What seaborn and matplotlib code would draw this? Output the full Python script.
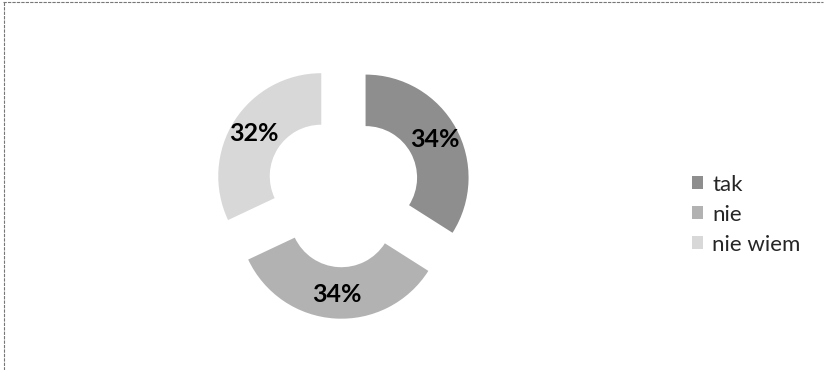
import matplotlib
matplotlib.use("Agg")
import matplotlib.pyplot as plt
from matplotlib.lines import Line2D
from matplotlib.patches import Patch
import seaborn as sns

# Survey answers
categories = ["tak", "nie", "nie wiem"]
values = [34, 34, 32]
colors = ["#8e8e8e", "#b2b2b2", "#d8d8d8"]

sns.set_style("white")
plt.rcParams["font.family"] = ["Lato", "DejaVu Sans"]

fig = plt.figure(figsize=(8.25, 3.7), dpi=100)

# donut centre roughly at (343, 190) px, radius ~103 px
R_px = 103
cx, cy = 343 / 825, 1 - 190 / 370
half = 1.35
w = 2 * half * R_px / 825
h = 2 * half * R_px / 370
ax = fig.add_axes([cx - w / 2, cy - h / 2, w, h])

wedges, texts, autotexts = ax.pie(
    values,
    colors=colors,
    startangle=90,
    counterclock=False,
    explode=[0.25] * 3,
    autopct=lambda p: f"{p:.0f}%",
    pctdistance=0.77,
    wedgeprops=dict(width=0.5, linewidth=0),
    textprops=dict(fontsize=18, fontweight="bold", color="black"),
)
ax.set_xlim(-half, half)
ax.set_ylim(-half, half)
ax.set_aspect("equal")
ax.axis("off")

handles = [Patch(facecolor=c, edgecolor="none") for c in colors]
fig.legend(
    handles, categories,
    loc="center left", bbox_to_anchor=(0.815, 0.42),
    frameon=False, fontsize=16,
    handlelength=0.5, handleheight=0.5, handletextpad=0.4,
    labelspacing=0.45,
)

# scanned frame: top and left edges only
fig.add_artist(Line2D([0.004, 0.998], [0.994, 0.994], color="#777777", lw=0.8, ls=(0, (3, 1))))
fig.add_artist(Line2D([0.005, 0.005], [0.0, 0.994], color="#777777", lw=0.8, ls=(0, (3, 1))))

fig.savefig("out.png", dpi=100)
